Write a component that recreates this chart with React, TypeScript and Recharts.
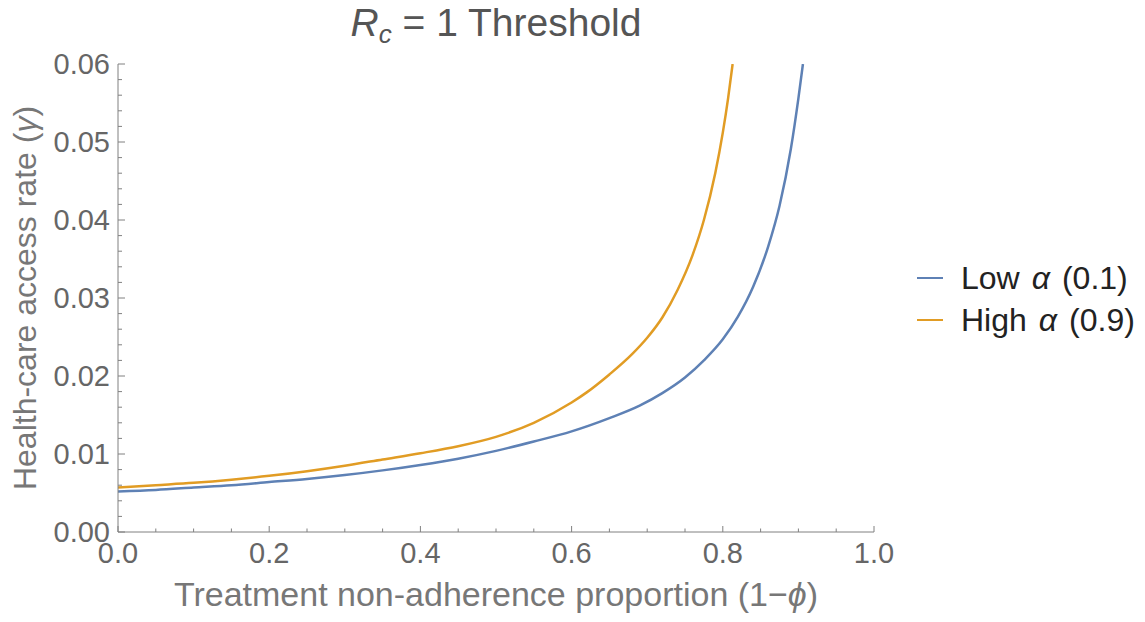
import { LineChart, Line, XAxis, YAxis } from 'recharts'

// values
const lowAlpha = [
  { x: 0, y: 0.0052 },
  { x: 0.05, y: 0.0054 },
  { x: 0.1, y: 0.0057 },
  { x: 0.15, y: 0.006 },
  { x: 0.2, y: 0.0064 },
  { x: 0.25, y: 0.0068 },
  { x: 0.3, y: 0.0073 },
  { x: 0.35, y: 0.0079 },
  { x: 0.4, y: 0.0086 },
  { x: 0.45, y: 0.0094 },
  { x: 0.5, y: 0.0104 },
  { x: 0.55, y: 0.0116 },
  { x: 0.6, y: 0.0129 },
  { x: 0.65, y: 0.0146 },
  { x: 0.69, y: 0.0162 },
  { x: 0.72, y: 0.0178 },
  { x: 0.75, y: 0.0198 },
  { x: 0.775, y: 0.022 },
  { x: 0.8, y: 0.0247 },
  { x: 0.82, y: 0.0276 },
  { x: 0.84, y: 0.0314 },
  { x: 0.86, y: 0.0366 },
  { x: 0.875, y: 0.0418 },
  { x: 0.89, y: 0.0491 },
  { x: 0.9, y: 0.0556 },
  { x: 0.906, y: 0.06 },
]

const highAlpha = [
  { x: 0, y: 0.0057 },
  { x: 0.05, y: 0.006 },
  { x: 0.1, y: 0.0063 },
  { x: 0.15, y: 0.0067 },
  { x: 0.2, y: 0.0072 },
  { x: 0.25, y: 0.0078 },
  { x: 0.3, y: 0.0085 },
  { x: 0.35, y: 0.0093 },
  { x: 0.4, y: 0.0101 },
  { x: 0.45, y: 0.011 },
  { x: 0.5, y: 0.0122 },
  { x: 0.55, y: 0.014 },
  { x: 0.6, y: 0.0166 },
  { x: 0.62, y: 0.0179 },
  { x: 0.65, y: 0.0202 },
  { x: 0.68, y: 0.0228 },
  { x: 0.7, y: 0.0249 },
  { x: 0.72, y: 0.0275 },
  { x: 0.74, y: 0.031 },
  { x: 0.76, y: 0.0355 },
  { x: 0.775, y: 0.04 },
  { x: 0.79, y: 0.046 },
  { x: 0.8, y: 0.0512 },
  { x: 0.807, y: 0.0556 },
  { x: 0.813, y: 0.06 },
]

const xTicks = [0, 0.05, 0.1, 0.15, 0.2, 0.25, 0.3, 0.35, 0.4, 0.45, 0.5, 0.55, 0.6, 0.65, 0.7, 0.75, 0.8, 0.85, 0.9, 0.95, 1]
const yTicks = [
  0, 0.002, 0.004, 0.006, 0.008, 0.01, 0.012, 0.014, 0.016, 0.018, 0.02, 0.022, 0.024, 0.026, 0.028, 0.03,
  0.032, 0.034, 0.036, 0.038, 0.04, 0.042, 0.044, 0.046, 0.048, 0.05, 0.052, 0.054, 0.056, 0.058, 0.06,
]

const series = [
  { name: 'Low', param: '(0.1)', color: '#5e81b5', data: lowAlpha },
  { name: 'High', param: '(0.9)', color: '#e19c24', data: highAlpha },
]

const font = '"Liberation Sans", Arial, sans-serif'
const grey = '#666'
const axisGrey = '#808080'

const isMajor = (v: number, per: number) => Math.abs(v * per - Math.round(v * per)) < 1e-6

function XTick({ x, y, payload }: any) {
  const major = isMajor(payload.value, 5)
  return (
    <g>
      <line x1={x} x2={x} y1={y} y2={y - (major ? 6 : 3.5)} stroke={axisGrey} strokeWidth={1} />
      {major && (
        <text x={x} y={y + 31} textAnchor="middle" fontSize={29} fill={grey} fontFamily={font}>
          {payload.value.toFixed(1)}
        </text>
      )}
    </g>
  )
}

function YTick({ x, y, payload }: any) {
  const major = isMajor(payload.value, 100)
  return (
    <g>
      <line x1={x} x2={x + (major ? 7 : 4)} y1={y} y2={y} stroke={axisGrey} strokeWidth={1} />
      {major && (
        <text x={x - 8} y={y + 10} textAnchor="end" fontSize={29} fill={grey} fontFamily={font}>
          {payload.value.toFixed(2)}
        </text>
      )}
    </g>
  )
}

export default function App() {
  return (
    <div style={{ position: 'relative', width: 1129, height: 606, fontFamily: font }}>
      <div
        style={{
          position: 'absolute',
          left: 110,
          width: 756,
          top: -5,
          textAlign: 'center',
          fontSize: 39,
          lineHeight: '39px',
          color: '#555',
        }}
      >
        <i>R</i>
        <sub style={{ fontSize: 26, fontStyle: 'italic', verticalAlign: -7, lineHeight: 0 }}>c</sub> = 1 Threshold
      </div>

      <LineChart width={1129} height={606} margin={{ top: 56, right: 263, bottom: 0, left: 0 }}>
        <XAxis
          type="number"
          dataKey="x"
          domain={[0, 1]}
          ticks={xTicks}
          interval={0}
          height={82}
          tickSize={0}
          tickMargin={0}
          tickLine={false}
          tick={<XTick />}
          axisLine={{ stroke: axisGrey }}
          allowDataOverflow
          label={{
            content: ({ viewBox }: any) => (
              <text
                x={viewBox.x + viewBox.width / 2}
                y={viewBox.y + 74}
                textAnchor="middle"
                fontSize={34}
                fill="#777"
                fontFamily={font}
              >
                Treatment non-adherence proportion (1−<tspan fontStyle="italic">ϕ</tspan>)
              </text>
            ),
          }}
        />
        <YAxis
          type="number"
          dataKey="y"
          domain={[0, 0.06]}
          ticks={yTicks}
          interval={0}
          width={110}
          tickSize={0}
          tickMargin={0}
          tickLine={false}
          tick={<YTick />}
          axisLine={{ stroke: axisGrey }}
          allowDataOverflow
          label={{
            content: ({ viewBox }: any) => {
              const cx = 28
              const cy = viewBox.y + viewBox.height / 2
              return (
                <text
                  x={cx}
                  y={cy}
                  transform={`rotate(-90 ${cx} ${cy})`}
                  textAnchor="middle"
                  fontSize={32}
                  fill="#777"
                  fontFamily={font}
                >
                  Health-care access rate (<tspan fontStyle="italic">γ</tspan>)
                </text>
              )
            },
          }}
        />
        {series.map((s) => (
          <Line
            key={s.name}
            data={s.data}
            dataKey="y"
            type="monotone"
            stroke={s.color}
            strokeWidth={2.5}
            dot={false}
            isAnimationActive={false}
          />
        ))}
      </LineChart>

      {series.map((s, i) => (
        <div
          key={s.name}
          style={{
            position: 'absolute',
            left: 909,
            top: 252 + i * 42,
            height: 36,
            display: 'flex',
            alignItems: 'center',
            fontSize: 32,
            color: '#222',
            whiteSpace: 'nowrap',
          }}
        >
          <span style={{ display: 'inline-block', width: 26, height: 2.5, background: s.color, marginRight: 18 }} />
          {s.name}
          <i style={{ margin: '0 12px 0 12px' }}>α</i>
          {s.param}
        </div>
      ))}
    </div>
  )
}
